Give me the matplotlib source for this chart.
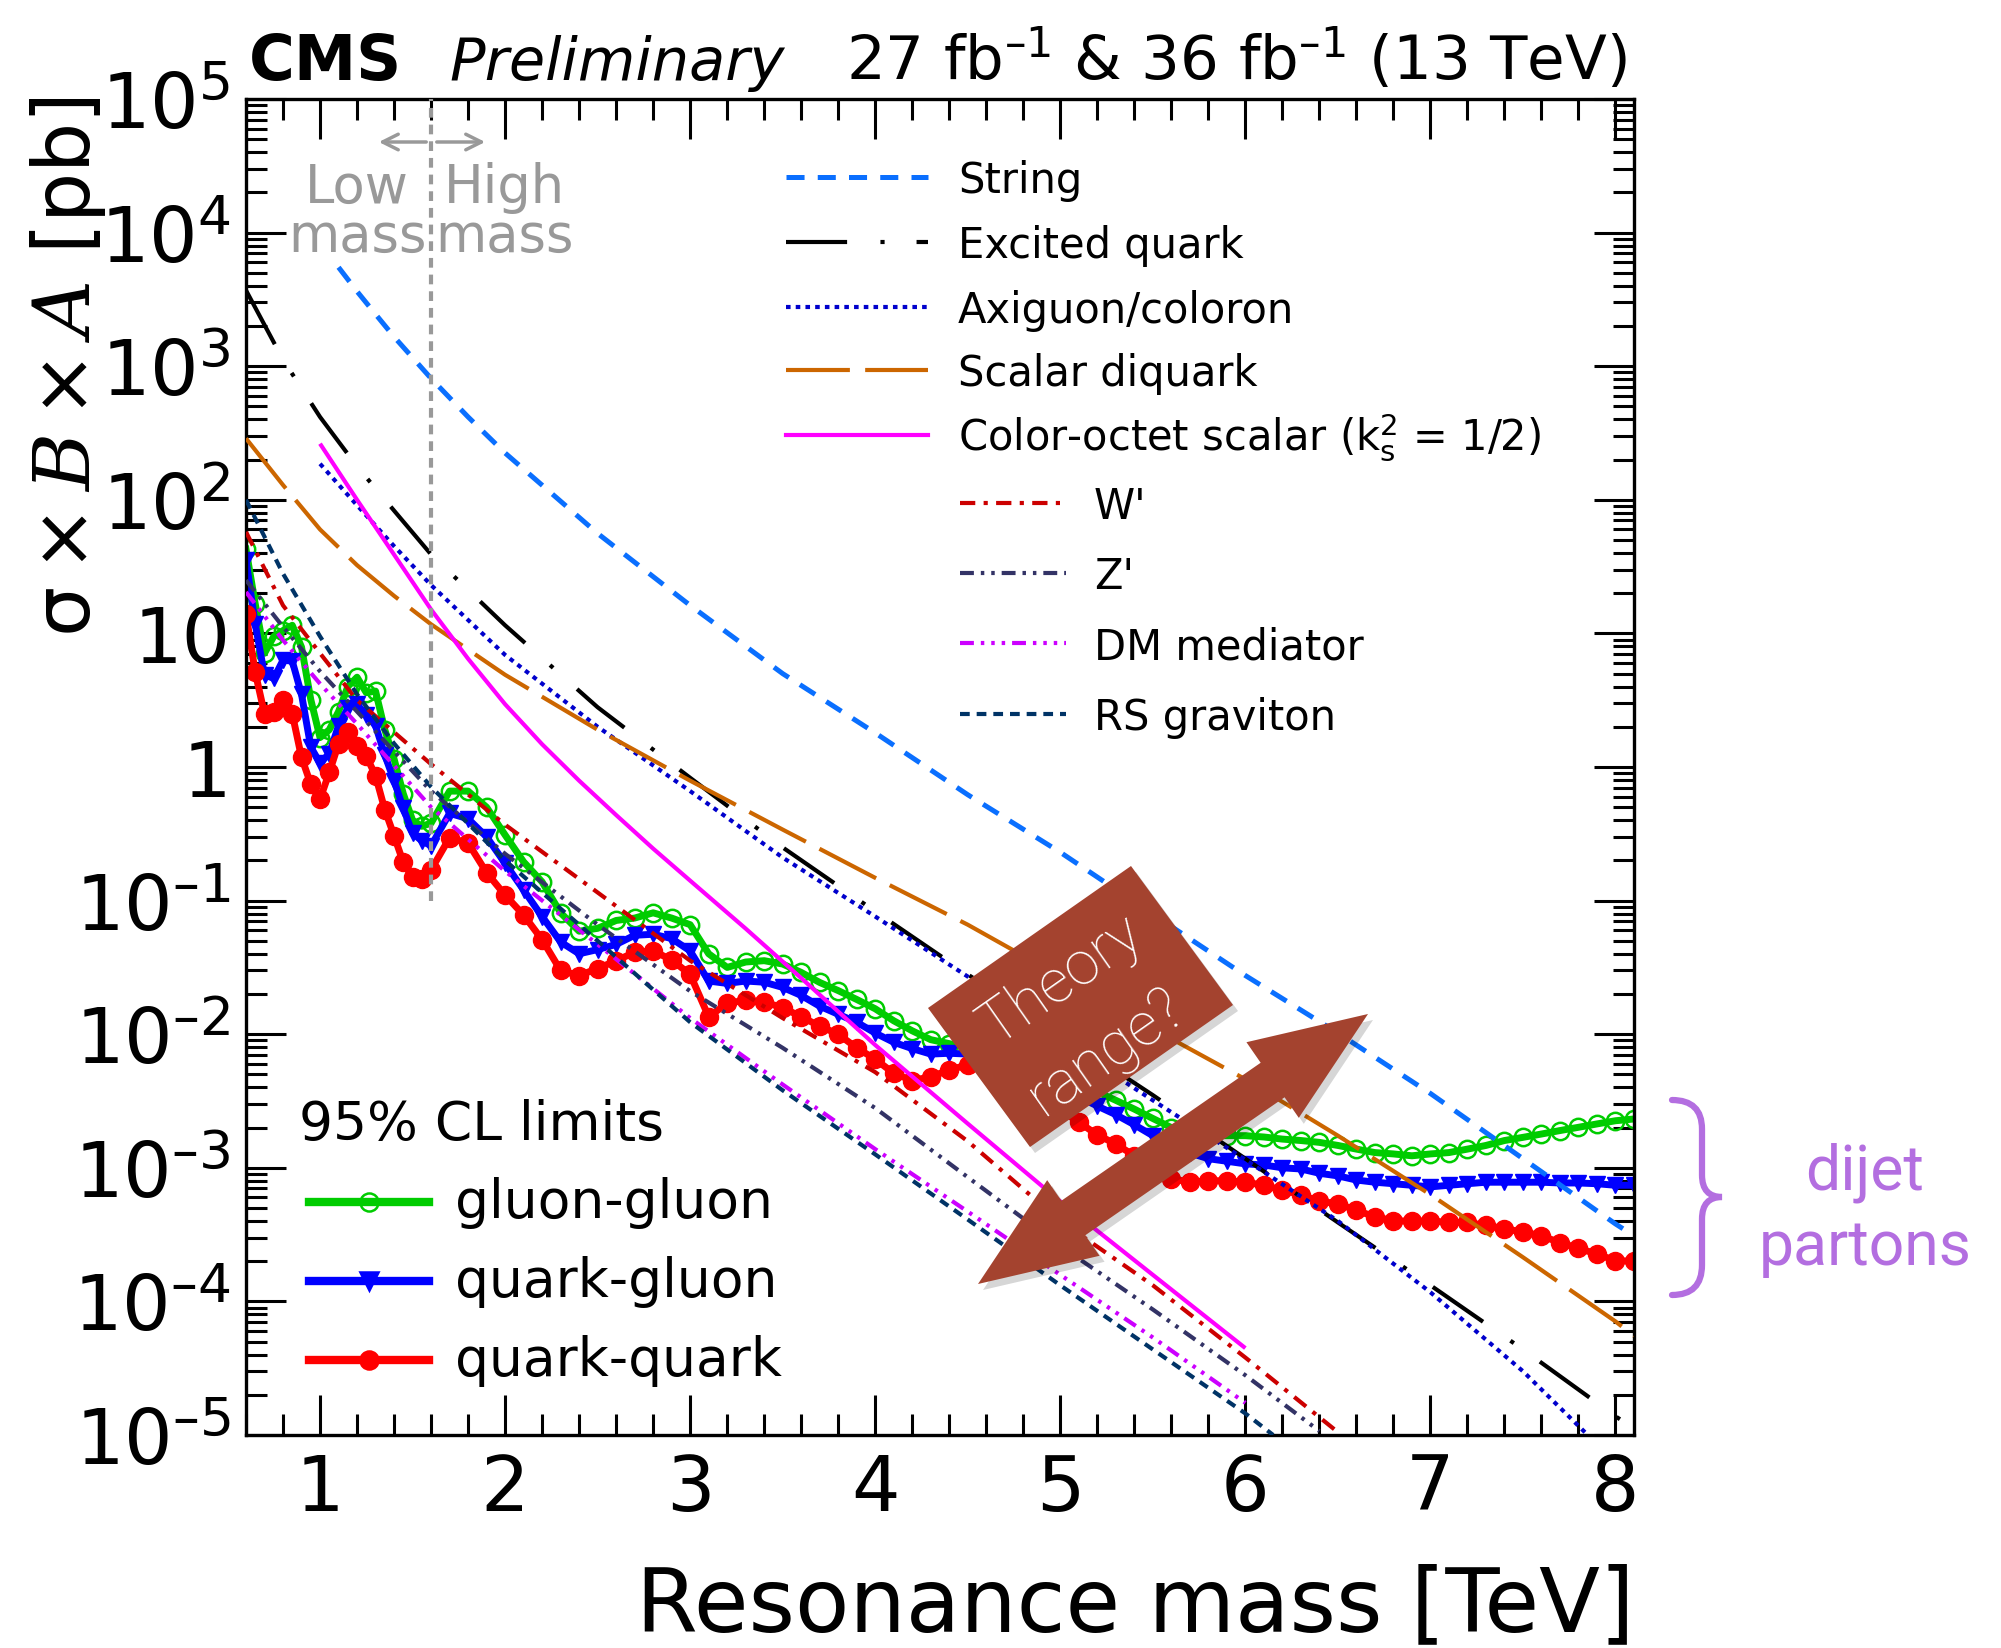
import matplotlib
matplotlib.use('Agg')
from matplotlib import pyplot as plt
from matplotlib.lines import Line2D
from matplotlib.patches import Polygon, PathPatch, FancyArrowPatch
from matplotlib.path import Path
from matplotlib.ticker import MultipleLocator, LogLocator, NullFormatter
import numpy as np

# ---- 95% CL limits (pb) ----
mass = [0.60, 0.65, 0.70, 0.75, 0.80, 0.85, 0.90, 0.95, 1.00, 1.05,
        1.10, 1.15, 1.20, 1.25, 1.30, 1.35, 1.40, 1.45, 1.50, 1.55,
        1.6, 1.7, 1.8, 1.9, 2.0, 2.1, 2.2, 2.3, 2.4, 2.5,
        2.6, 2.7, 2.8, 2.9, 3.0, 3.1, 3.2, 3.3, 3.4, 3.5,
        3.6, 3.7, 3.8, 3.9, 4.0, 4.1, 4.2, 4.3, 4.4, 4.5,
        4.6, 4.7, 4.8, 4.9, 5.0, 5.1, 5.2, 5.3, 5.4, 5.5,
        5.6, 5.7, 5.8, 5.9, 6.0, 6.1, 6.2, 6.3, 6.4, 6.5,
        6.6, 6.7, 6.8, 6.9, 7.0, 7.1, 7.2, 7.3, 7.4, 7.5,
        7.6, 7.7, 7.8, 7.9, 8.0, 8.1]

gluon_gluon = [42.7, 16.6, 7.1, 9.5, 10.5, 11.5, 7.9, 3.2, 1.66, 1.9,
               2.6, 4.0, 4.7, 3.6, 3.7, 1.9, 1.15, 0.63, 0.40, 0.36,
               0.38, 0.66, 0.66, 0.50, 0.31, 0.195, 0.138, 0.081, 0.059, 0.062,
               0.071, 0.074, 0.081, 0.074, 0.066, 0.040, 0.0316, 0.0347, 0.0355, 0.0335,
               0.029, 0.0244, 0.0212, 0.0182, 0.0155, 0.0126, 0.0106, 0.0091, 0.0085, 0.0079,
               0.0072, 0.0066, 0.0059, 0.0052, 0.0047, 0.0042, 0.0037, 0.0032, 0.00275, 0.00234,
               0.0020, 0.00178, 0.00174, 0.00174, 0.00174, 0.0017, 0.00164, 0.0016, 0.00155, 0.00147,
               0.00138, 0.0013, 0.00127, 0.00123, 0.00127, 0.0013, 0.00138, 0.00147, 0.0016, 0.00169,
               0.00179, 0.0019, 0.00201, 0.00213, 0.00225, 0.00232]

quark_gluon = [35.5, 11.7, 4.9, 4.6, 6.3, 6.2, 3.5, 1.41, 1.07, 1.26,
               2.04, 2.75, 2.95, 2.45, 2.04, 1.23, 0.79, 0.49, 0.32, 0.28,
               0.257, 0.45, 0.41, 0.30, 0.19, 0.12, 0.076, 0.049, 0.040, 0.043,
               0.047, 0.055, 0.056, 0.052, 0.042, 0.025, 0.024, 0.025, 0.0245, 0.0224,
               0.0195, 0.0162, 0.0141, 0.0123, 0.0102, 0.0087, 0.0078, 0.0071, 0.0072, 0.0071,
               0.0069, 0.0065, 0.0058, 0.0049, 0.0041, 0.0034, 0.0029, 0.0025, 0.0021, 0.00174,
               0.00148, 0.00129, 0.00117, 0.00112, 0.00107, 0.00105, 0.00100, 0.00098, 0.00091, 0.00087,
               0.00081, 0.00078, 0.00076, 0.00074, 0.00072, 0.00074, 0.00076, 0.00078, 0.00078, 0.00078,
               0.00078, 0.00077, 0.00077, 0.00076, 0.00074, 0.00074]

quark_quark = [14.0, 5.1, 2.5, 2.6, 3.2, 2.5, 1.18, 0.745, 0.575, 0.91,
               1.49, 1.82, 1.44, 1.21, 0.86, 0.48, 0.306, 0.193, 0.151, 0.145,
               0.17, 0.295, 0.27, 0.162, 0.11, 0.078, 0.051, 0.030, 0.0275, 0.031,
               0.0355, 0.041, 0.042, 0.036, 0.028, 0.0135, 0.017, 0.018, 0.0174, 0.0158,
               0.0135, 0.0115, 0.0100, 0.0079, 0.0065, 0.0051, 0.0045, 0.0048, 0.0054, 0.0059,
               0.0056, 0.0050, 0.0042, 0.0034, 0.0027, 0.0022, 0.00176, 0.00151, 0.00123, 0.00100,
               0.00083, 0.00078, 0.00080, 0.00080, 0.00078, 0.00074, 0.00068, 0.00063, 0.00056, 0.00054,
               0.00048, 0.00043, 0.00040, 0.00040, 0.00040, 0.00039, 0.00039, 0.00037, 0.00035, 0.00033,
               0.00031, 0.000275, 0.00025, 0.000226, 0.000202, 0.0002]

# ---- theory cross sections (pb) ----
string_m = [1.1, 1.2, 1.3, 1.4, 1.6, 1.8, 2.0, 2.5, 3.0, 3.5, 4.0, 4.5, 5.0, 5.5, 6.0, 6.5, 7.0, 7.5, 8.0, 8.1]
string_xs = [5500, 3630, 2450, 1660, 810, 417, 224, 56, 16.2, 5.0, 1.80, 0.62, 0.23, 0.079,
             0.0275, 0.0102, 0.0036, 0.00117, 0.00038, 0.00031]

qstar_m = [0.6, 0.8, 1.0, 1.2, 1.4, 1.6, 2.0, 2.5, 3.0, 3.5, 4.0, 4.5, 5.0, 5.5, 6.0, 6.5, 7.0, 7.5, 8.0, 8.1]
qstar_xs = [3700, 1120, 417, 178, 83, 39, 11.5, 2.8, 0.83, 0.25, 0.083, 0.028, 0.010, 0.0035,
            0.00117, 0.00039, 0.000132, 0.0000437, 0.0000138, 0.0000112]

axi_m = [1.0, 1.2, 1.4, 1.6, 2.0, 2.5, 3.0, 3.5, 4.0, 4.5, 5.0, 5.5, 6.0, 6.5, 7.0, 7.5, 7.85]
axi_xs = [186, 91, 45, 23, 6.9, 2.0, 0.66, 0.21, 0.076, 0.027, 0.0091, 0.0032, 0.00115,
          0.0004, 0.000117, 0.00003, 0.00001]

diq_m = [0.6, 0.8, 1.0, 1.2, 1.4, 1.6, 2.0, 2.5, 3.0, 3.5, 4.0, 4.5, 5.0, 5.5, 6.0, 6.5, 7.0, 7.5, 8.0, 8.1]
diq_xs = [288, 129, 60, 32.4, 19.1, 11.7, 4.9, 1.9, 0.79, 0.34, 0.148, 0.066, 0.027, 0.011,
          0.0046, 0.00174, 0.00063, 0.000214, 0.0000708, 0.000055]

cos_m = [1.0, 1.2, 1.4, 1.6, 1.8, 2.0, 2.2, 2.4, 2.6, 2.8, 3.0, 3.3, 3.6, 4.0, 4.5, 5.0, 5.5, 6.0]
cos_xs = [263, 100, 38.9, 15.1, 6.46, 2.95, 1.48, 0.79, 0.437, 0.245, 0.141, 0.0617, 0.0263, 0.0083,
          0.00214, 0.00056, 0.000158, 0.0000447]

wp_m = [0.6, 0.8, 1.0, 1.2, 1.6, 2.0, 2.5, 3.0, 3.5, 4.0, 4.5, 5.0, 5.5, 6.0, 6.5]
wp_xs = [57.5, 16.2, 7.1, 3.16, 1.05, 0.37, 0.115, 0.0355, 0.0132, 0.0052, 0.00158, 0.0004,
         0.000132, 0.000038, 0.0000105]

zp_m = [0.6, 0.8, 1.0, 1.2, 1.6, 2.0, 2.5, 3.0, 3.5, 4.0, 4.5, 5.0, 5.5, 6.0, 6.4]
zp_xs = [25, 11.2, 5.2, 2.6, 0.66, 0.224, 0.066, 0.021, 0.0079, 0.0028, 0.00085, 0.00026,
         0.000087, 0.000028, 0.0000107]

dm_m = [0.6, 0.8, 1.0, 1.2, 1.6, 2.0, 2.5, 3.0, 3.5, 4.0, 4.5, 5.0, 5.5, 6.0]
dm_xs = [20.4, 8.9, 4.2, 2.1, 0.50, 0.166, 0.047, 0.0132, 0.0042, 0.00138, 0.00047, 0.000158,
         0.0000537, 0.0000174]

rs_m = [0.6, 0.8, 1.0, 1.2, 1.4, 1.6, 2.0, 2.5, 3.0, 3.5, 4.0, 4.5, 5.0, 5.5, 6.0, 6.15]
rs_xs = [100, 28, 9.5, 3.5, 1.5, 0.71, 0.2, 0.05, 0.0123, 0.0038, 0.00126, 0.00041, 0.000132,
         0.0000437, 0.0000145, 0.00001]

low_high_boundary = 1.6   # TeV
boundary_ymin = 0.1

x_ticks = [1, 2, 3, 4, 5, 6, 7, 8]
y_ticks = [1e-5, 1e-4, 1e-3, 1e-2, 1e-1, 1, 10, 1e2, 1e3, 1e4, 1e5]
y_tick_labels = [r'$10^{\mathregular{–5}}$', r'$10^{\mathregular{–4}}$', r'$10^{\mathregular{–3}}$',
                 r'$10^{\mathregular{–2}}$', r'$10^{\mathregular{–1}}$', '1', '10',
                 r'$10^{2}$', r'$10^{3}$', r'$10^{4}$', r'$10^{5}$']

plt.rcParams['font.family'] = ['DejaVu Sans']
plt.rcParams['lines.scale_dashes'] = False
plt.rcParams['mathtext.fontset'] = 'custom'
plt.rcParams['mathtext.rm'] = 'DejaVu Sans'
plt.rcParams['mathtext.it'] = 'DejaVu Serif:italic'
plt.rcParams['mathtext.bf'] = 'DejaVu Sans:bold'

W, H = 2001, 1649


def fxy(px, py):
    # pixel position in the image -> figure fraction
    return px / W, 1 - py / H


fig = plt.figure(figsize=(W / 100, H / 100), dpi=100)
ax = fig.add_axes([246 / W, 1 - 1436 / H, (1634 - 246) / W, (1436 - 100) / H])

# limit curves
ax.plot(mass, gluon_gluon, color='#00cc00', lw=5, marker='o', ms=12.5, mfc='none', mew=1.8, zorder=2)
ax.plot(mass, quark_gluon, color='#0000ff', lw=5, marker='v', ms=12, zorder=2)
ax.plot(mass, quark_quark, color='#ff0000', lw=5, marker='o', ms=13, zorder=2)

# theory curves: label, masses, values, color, dash pattern (points), width
theory = [
    ('String', string_m, string_xs, '#0a6fff', (13, 9.5), 3.6),
    ('Excited quark', qstar_m, qstar_xs, 'black', (44, 24, 3, 23), 3),
    ('Axiguon/coloron', axi_m, axi_xs, '#0000cc', (3.3, 3.7), 3),
    ('Scalar diquark', diq_m, diq_xs, '#cc6600', (46, 11), 3),
    (r'Color-octet scalar (k$_{\mathrm{s}}^{2}$ = 1/2)', cos_m, cos_xs, '#ff00ff', None, 3),
    ("W'", wp_m, wp_xs, '#cc0000', (11, 6, 3, 6), 3),
    ("Z'", zp_m, zp_xs, '#333366', (10, 5, 2.5, 5, 2.5, 5), 3),
    ('DM mediator', dm_m, dm_xs, '#cc00ff', (10, 5, 2.5, 5, 2.5, 5, 2.5, 5), 3),
    ('RS graviton', rs_m, rs_xs, '#003366', (7, 5), 3),
]
for name, m, xs, col, dsh, lw in theory:
    ln, = ax.plot(m, xs, color=col, lw=lw, zorder=3, solid_capstyle='butt')
    if dsh is not None:
        ln.set_dashes(dsh)

# low / high mass boundary
ax.vlines(low_high_boundary, boundary_ymin, 1e5, colors='#999999', lw=3, zorder=4,
          linestyles=(0, (7, 5)))

ax.set_xlim(0.6, 8.1)
ax.set_yscale('log')
ax.set_ylim(1e-5, 1e5)
ax.set_xticks(x_ticks, [str(v) for v in x_ticks])
ax.xaxis.set_minor_locator(MultipleLocator(0.2))
ax.set_yticks(y_ticks, y_tick_labels)
ax.yaxis.set_minor_locator(LogLocator(base=10, subs=range(2, 10), numticks=30))
ax.yaxis.set_minor_formatter(NullFormatter())
ax.tick_params(which='both', direction='in', top=True, right=True, width=2.2)
ax.tick_params(which='major', length=29, labelsize=55)
ax.tick_params(which='minor', length=15)
ax.tick_params(axis='x', which='major', pad=12)
ax.tick_params(axis='y', which='major', pad=11)
for sp in ax.spines.values():
    sp.set_linewidth(2.4)

# axis titles
fig.text(*fxy(1634, 1631), 'Resonance mass [TeV]', ha='right', va='baseline', fontsize=64)
fig.text(*fxy(68, 96), r'$\mathrm{\sigma} \times B \times A$ [pb]', rotation=90,
         ha='center', va='top', fontsize=57)

# header
fig.text(*fxy(249, 80), 'CMS', fontsize=45, fontweight='bold', ha='left', va='baseline')
fig.text(*fxy(449, 80), 'Preliminary', fontsize=42.5, style='italic', ha='left', va='baseline')
fig.text(*fxy(1627, 80), r'27 fb$^{\mathregular{–1}}$ & 36 fb$^{\mathregular{–1}}$ (13 TeV)',
         fontsize=44, ha='right', va='baseline')

# low / high mass label
gray = '#999999'
for word, px, py in [('Low', 357, 203), ('mass', 357, 252), ('High', 504, 203), ('mass', 504, 252)]:
    fig.text(*fxy(px, py), word, color=gray, fontsize=38, ha='center', va='baseline')
fig.add_artist(FancyArrowPatch(fxy(429, 143), fxy(376, 143), transform=fig.transFigure,
                               arrowstyle='->', mutation_scale=28, lw=2.5, color=gray))
fig.add_artist(FancyArrowPatch(fxy(434, 143), fxy(488, 143), transform=fig.transFigure,
                               arrowstyle='->', mutation_scale=28, lw=2.5, color=gray))

# theory legend (two blocks)
rows = [178, 243, 308, 371, 436]
for (name, m, xs, col, dsh, lw), y in zip(theory[:5], rows):
    ln = Line2D([786 / W, 928 / W], [1 - y / H] * 2, color=col, lw=lw, transform=fig.transFigure)
    if dsh is not None:
        ln.set_dashes(dsh)
    fig.add_artist(ln)
    fig.text(*fxy(958, y + 15), name, fontsize=30, ha='left', va='baseline')
rows = [504, 574, 644, 715]
for (name, m, xs, col, dsh, lw), y in zip(theory[5:], rows):
    ln = Line2D([960 / W, 1066 / W], [1 - y / H] * 2, color=col, lw=lw, transform=fig.transFigure)
    ln.set_dashes(dsh)
    fig.add_artist(ln)
    fig.text(*fxy(1094, y + 15), name, fontsize=30, ha='left', va='baseline')

# limits legend
fig.text(*fxy(299, 1140), '95% CL limits', fontsize=38.5, ha='left', va='baseline')
lim_leg = [('gluon-gluon', '#00cc00', 'o', 'none', 1203),
           ('quark-gluon', '#0000ff', 'v', '#0000ff', 1282),
           ('quark-quark', '#ff0000', 'o', '#ff0000', 1361)]
for name, col, mk, mfc, y in lim_leg:
    fig.add_artist(Line2D([309 / W, 429 / W], [1 - y / H] * 2, color=col, lw=6,
                          transform=fig.transFigure))
    fig.add_artist(Line2D([369 / W], [1 - y / H], color=col, marker=mk, ms=13, mfc=mfc,
                          mew=1.8, transform=fig.transFigure))
    fig.text(*fxy(455, y + 15), name, fontsize=38.5, ha='left', va='baseline')

# "Theory range?" box and double arrow
brown = '#a4432f'
box = [(928, 1009), (1131, 867), (1233, 1006), (1030, 1148)]
fig.add_artist(Polygon([fxy(px + 5, py + 6) for px, py in box], closed=True, fc='black',
                       ec='none', alpha=0.16, transform=fig.transFigure))
fig.add_artist(Polygon([fxy(px, py) for px, py in box], closed=True, fc=brown, ec='none',
                       transform=fig.transFigure))
for word, px, py in [('Theory', 1061, 980), ('range?', 1107, 1052)]:
    fig.text(*fxy(px, py), word, rotation=35, rotation_mode='anchor', color='white',
             fontsize=44, fontweight='light', family=['Roboto', 'DejaVu Sans'],
             ha='center', va='center')

t1 = np.array([978.0, 1285.0])
t2 = np.array([1368.0, 1015.0])
u = (t2 - t1) / np.hypot(*(t2 - t1))
n = np.array([-u[1], u[0]])
hw, hh, hl = 21, 46, 116
arrow = [t1, t1 + u * hl + n * hh, t1 + u * hl + n * hw, t2 - u * hl + n * hw,
         t2 - u * hl + n * hh, t2, t2 - u * hl - n * hh, t2 - u * hl - n * hw,
         t1 + u * hl - n * hw, t1 + u * hl - n * hh]
fig.add_artist(Polygon([fxy(p[0] + 5, p[1] + 6) for p in arrow], closed=True, fc='black',
                       ec='none', alpha=0.16, transform=fig.transFigure))
fig.add_artist(Polygon([fxy(p[0], p[1]) for p in arrow], closed=True, fc=brown, ec='none',
                       transform=fig.transFigure))

# dijet partons brace
purple = '#b36ee0'
brace_px = [(1672, 1101), (1702, 1101), (1702, 1130), (1702, 1176), (1702, 1198), (1722, 1198),
            (1702, 1198), (1702, 1220), (1702, 1266), (1702, 1296), (1672, 1296)]
codes = [Path.MOVETO, Path.CURVE3, Path.CURVE3, Path.LINETO, Path.CURVE3, Path.CURVE3,
         Path.CURVE3, Path.CURVE3, Path.LINETO, Path.CURVE3, Path.CURVE3]
fig.add_artist(PathPatch(Path([fxy(*p) for p in brace_px], codes), fc='none', ec=purple,
                         lw=4.5, capstyle='round', transform=fig.transFigure))
fig.text(*fxy(1865, 1190), 'dijet', color=purple, fontsize=45,
         family=['Roboto', 'DejaVu Sans'], ha='center', va='baseline')
fig.text(*fxy(1865, 1265), 'partons', color=purple, fontsize=45,
         family=['Roboto', 'DejaVu Sans'], ha='center', va='baseline')

fig.savefig('out.png', dpi=100)
